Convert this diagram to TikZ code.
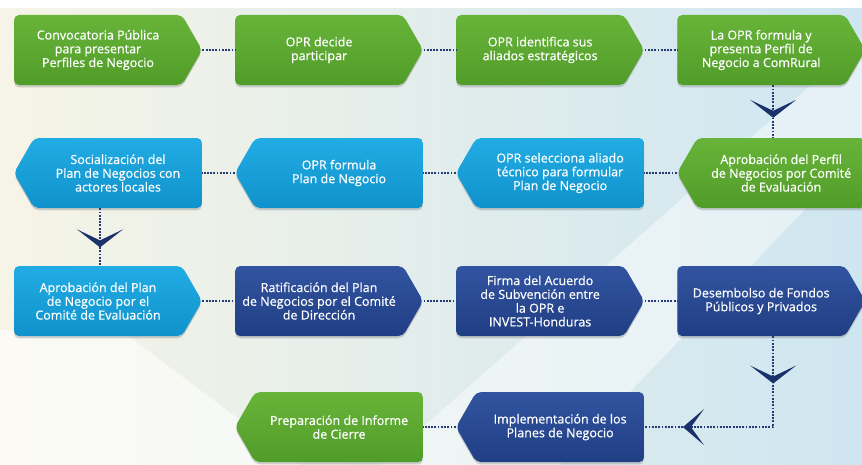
\documentclass[tikz,border=0pt]{standalone}
\usepackage{fontspec}
\newfontfamily\boxfont[FakeBold=0.6]{Open Sans}
\usepackage{tikz}
\usetikzlibrary{shapes.symbols}
\usetikzlibrary{shadows}
\definecolor{grnA}{RGB}{104,180,58}
\definecolor{grnB}{RGB}{80,156,40}
\definecolor{bluA}{RGB}{34,172,228}
\definecolor{bluB}{RGB}{16,146,204}
\definecolor{navA}{RGB}{50,84,160}
\definecolor{navB}{RGB}{32,62,132}
\definecolor{dotc}{RGB}{36,58,118}
\definecolor{chevc}{RGB}{26,50,108}
\definecolor{bgl}{RGB}{246,244,230}
\definecolor{bgr}{RGB}{206,230,241}
\tikzset{
    block/.style = {signal, signal pointer angle=120,
        rounded corners=3.5pt,
        minimum height=1.75cm,
        minimum width=4.7cm, inner sep=2pt,
        align=center, text=white,
        font=\boxfont\fontsize{8.9}{9.8}\selectfont,
        drop shadow={shadow xshift=0pt, shadow yshift=-1.6pt, opacity=0.35}},
    toright/.style = {block, signal to=east},
    toleft/.style = {block, signal to=west},
    grnbox/.style = {top color=grnA, bottom color=grnB},
    blubox/.style = {top color=bluA, bottom color=bluB},
    navbox/.style = {top color=navA, bottom color=navB},
    link/.style = {draw=dotc, densely dotted, line width=1.3pt},
    chev/.style = {fill=chevc}
}
\begin{document}
\begin{tikzpicture}[x=0.025cm, y=0.025cm, node distance=5.525cm]
    % background
    \useasboundingbox (0,0) rectangle (862,-465);
    \shade [left color=bgl, right color=bgr] (0,0) rectangle (862,-465);
    \fill [white, opacity=0.45] (380,-465) -- (560,-465) -- (862,-150) -- (862,-40) -- cycle;
    \fill [white, opacity=0.6] (0,-330) -- (0,-465) -- (300,-465) -- (120,-330) -- cycle;
    \fill [white] (0,0) rectangle (862,-8);

    % row 1
    \node [toright, grnbox] (a1) at (98,-50) {Convocatoria Pública\\para presentar\\Perfiles de Negocio};
    \node [toright, grnbox, right of=a1] (a2) {OPR decide\\participar};
    \node [toright, grnbox, right of=a2] (a3) {OPR identifica sus\\aliados estratégicos};
    \node [toright, grnbox, right of=a3] (a4) {La OPR formula y\\presenta Perfil de\\Negocio a ComRural};
    % row 2
    \node [toleft, grnbox, node distance=3.075cm, below of=a4, xshift=0.5cm] (b4) {Aprobación del Perfil\\de Negocios por Comité\\de Evaluación};
    \node [toleft, blubox, left of=b4] (b3) {OPR selecciona aliado\\técnico para formular\\Plan de Negocio};
    \node [toleft, blubox, left of=b3] (b2) {OPR formula\\Plan de Negocio};
    \node [toleft, blubox, left of=b2] (b1) {Socialización del\\Plan de Negocios con\\actores locales};
    % row 3
    \node [toright, blubox, node distance=3.2cm, below of=b1, xshift=-0.5cm] (c1) {Aprobación del Plan\\de Negocio por el\\Comité de Evaluación};
    \node [toright, navbox, right of=c1] (c2) {Ratificación del Plan\\de Negocios por el Comité\\de Dirección};
    \node [toright, navbox, right of=c2] (c3) {Firma del Acuerdo\\de Subvención entre\\la OPR e\\INVEST-Honduras};
    \node [toright, navbox, right of=c3] (c4) {Desembolso de Fondos\\Públicos y Privados};
    % row 4
    \node [toleft, navbox, node distance=3.15cm, below of=c3, xshift=0.5cm] (d2) {Implementación de los\\Planes de Negocio};
    \node [toleft, grnbox, left of=d2] (d1) {Preparación de Informe\\de Cierre};

    \draw [link] (a1.east) -- (a2.west);
    \draw [link] (a2.east) -- (a3.west);
    \draw [link] (a3.east) -- (a4.west);
    \draw [link] ([xshift=0.3cm]a4.south) -- coordinate[pos=0.62] (v1) ([xshift=-0.2cm]b4.north);
    \draw [link] (b4.west) -- (b3.east);
    \draw [link] (b3.west) -- (b2.east);
    \draw [link] (b2.west) -- (b1.east);
    \draw [link] ([xshift=-0.45cm]b1.south) -- coordinate[pos=0.68] (v2) ([xshift=0.05cm]c1.north);
    \draw [link] (c1.east) -- (c2.west);
    \draw [link] (c2.east) -- (c3.west);
    \draw [link] (c3.east) -- (c4.west);
    \draw [link] ([xshift=0.3cm]c4.south) |- coordinate[pos=0.26] (v3) coordinate[pos=0.85] (v4) (d2.east);
    \draw [link] (d2.west) -- (d1.east);

    % chevrons
    \fill [chev] (v1) -- ++(-23,18) -- ++(23,-11) -- ++(23,11) -- cycle;
    \fill [chev] (v2) -- ++(-23,18) -- ++(23,-11) -- ++(23,11) -- cycle;
    \fill [chev] (v3) -- ++(-23,18) -- ++(23,-11) -- ++(23,11) -- cycle;
    \fill [chev] (v4) -- ++(21,18) -- ++(-13,-18) -- ++(13,-18) -- cycle;
\end{tikzpicture}
\end{document}
